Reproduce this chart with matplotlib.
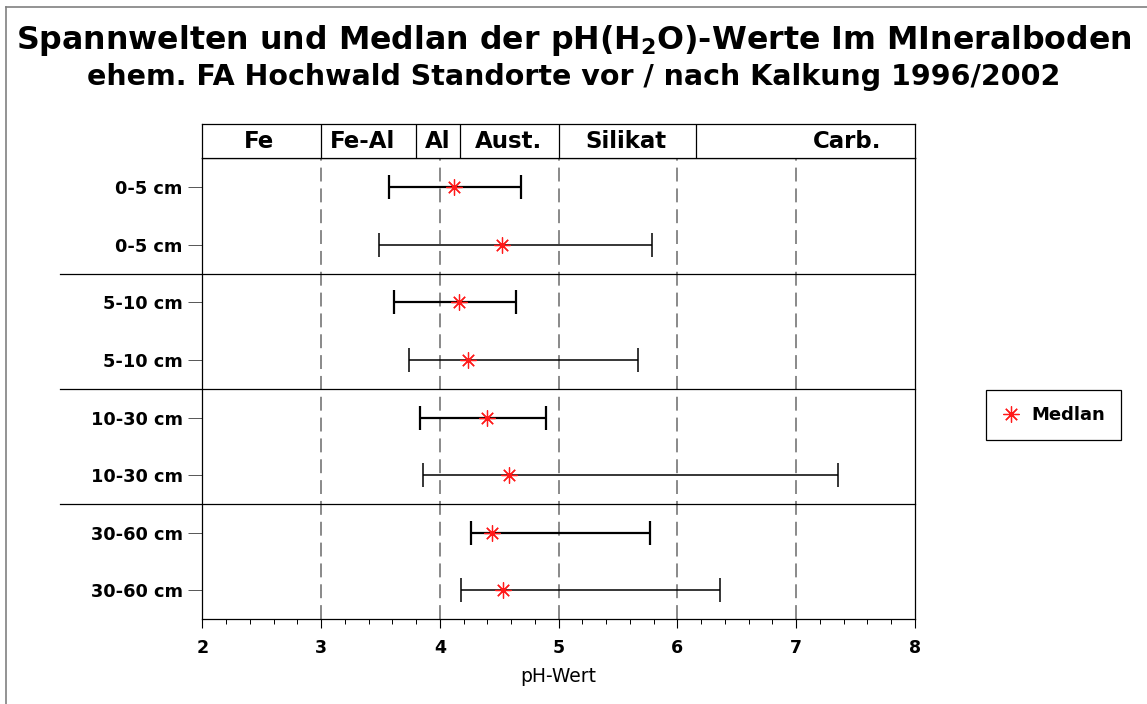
import numpy as np
import matplotlib.pyplot as plt
import matplotlib.transforms as mtransforms
from matplotlib.lines import Line2D
from matplotlib.ticker import MultipleLocator

plt.rcParams['font.family'] = 'DejaVu Sans'
plt.rcParams['mathtext.fontset'] = 'dejavusans'
plt.rcParams['lines.scale_dashes'] = False

# Tiefenstufen, je zwei Zeilen (1996 / 2002)
depths = ["0-5 cm", "0-5 cm", "5-10 cm", "5-10 cm",
          "10-30 cm", "10-30 cm", "30-60 cm", "30-60 cm"]
ph_min = [3.57, 3.49, 3.61, 3.74, 3.83, 3.86, 4.26, 4.18]
ph_max = [4.68, 5.79, 4.64, 5.67, 4.89, 7.35, 5.77, 6.36]
ph_median = [4.12, 4.52, 4.16, 4.24, 4.40, 4.58, 4.44, 4.53]

# Pufferbereiche oben
buffer_names = ["Fe", "Fe-Al", "Al", "Aust.", "Silikat", "Carb."]
buffer_edges = [2.0, 3.0, 3.8, 4.17, 5.0, 6.16, 8.0]
buffer_label_x = [2.48, 3.35, 3.98, 4.58, 5.57, 7.43]

title = r"Spannwelten und Medlan der pH(H$_\mathbf{2}$O)-Werte Im MIneralboden"
subtitle = "ehem. FA Hochwald Standorte vor / nach Kalkung 1996/2002"

W, H = 1147, 704
fig = plt.figure(figsize=(W / 100, H / 100), dpi=100)

left, right, top, bottom = 202.3, 915.0, 158.3, 619.3
ax = fig.add_axes([left / W, 1 - bottom / H, (right - left) / W, (bottom - top) / H])

n = len(depths)
y = np.arange(n) + 0.5
ax.set_xlim(2, 8)
ax.set_ylim(n, 0)

# gestrichelte Gitterlinien
for xv in range(3, 8):
    ax.axvline(xv, color='#6a6a6a', lw=1.1, ls=(0, (10, 5)), zorder=1)

# Spannweiten
for i in range(n):
    lw = 1.6 if i % 2 == 0 else 1.1
    ax.errorbar(ph_median[i], y[i],
                xerr=[[ph_median[i] - ph_min[i]], [ph_max[i] - ph_median[i]]],
                fmt='none', ecolor='black', elinewidth=lw, capsize=8.8,
                capthick=lw, zorder=3)
med = ax.plot(ph_median, y, ls='none', marker=(8, 2, 0), ms=11.5,
              mec='#ff1a1a', mfc='#ff1a1a', mew=0.9, zorder=4, label='Medlan')

# Trennlinien zwischen den Tiefenstufen
trans = mtransforms.blended_transform_factory(ax.transAxes, ax.transData)
for i in range(1, n):
    if depths[i] != depths[i - 1]:
        ax.plot([-0.2, 1], [i, i], color='black', lw=0.9, transform=trans,
                clip_on=False, zorder=2)

ax.set_yticks(y)
ax.set_yticklabels(depths, fontweight='bold', fontsize=12.8)
ax.tick_params(axis='y', length=10, width=0.7, color='#555555', pad=4)
ax.set_xticks(range(2, 9))
ax.set_xticklabels([str(v) for v in range(2, 9)], fontweight='bold', fontsize=12.5)
ax.xaxis.set_minor_locator(MultipleLocator(0.2))
ax.tick_params(axis='x', which='major', length=6.5, width=0.8, pad=8)
ax.tick_params(axis='x', which='minor', length=3.4, width=0.7)
ax.set_xlabel('pH-Wert', fontsize=13.5)
ax.xaxis.set_label_coords(0.5, -0.103)
for s in ax.spines.values():
    s.set_linewidth(0.9)

# Kopfleiste mit Pufferbereichen
hx = fig.add_axes([left / W, 1 - top / H, (right - left) / W, (top - 124.3) / H])
hx.set_xlim(2, 8)
hx.set_ylim(0, 1)
hx.set_xticks([])
hx.set_yticks([])
for e in buffer_edges[1:-1]:
    hx.axvline(e, color='black', lw=0.9)
for name, xv in zip(buffer_names, buffer_label_x):
    hx.text(xv, 0.48, name, ha='center', va='center', fontweight='bold', fontsize=16.5)
for s in hx.spines.values():
    s.set_linewidth(0.9)

fig.text(0.5, 1 - 49 / H, title, ha='center', va='baseline', fontsize=22.8, fontweight='bold')
fig.text(0.5, 1 - 85 / H, subtitle, ha='center', va='baseline', fontsize=20.5, fontweight='bold')

leg = fig.legend(handles=med, loc='center', bbox_to_anchor=(1053.5 / W, 1 - 415 / H),
                 fancybox=False, edgecolor='black', framealpha=1, handlelength=1.0,
                 handletextpad=0.6, borderpad=0.9, prop={'weight': 'bold', 'size': 13})
leg.get_frame().set_linewidth(0.9)

# Rahmen
fig.add_artist(Line2D([6 / W, 1], [1 - 7 / H, 1 - 7 / H], transform=fig.transFigure,
                      color='#808080', lw=1.2))
fig.add_artist(Line2D([6 / W, 6 / W], [0, 1 - 7 / H], transform=fig.transFigure,
                      color='#808080', lw=1.2))

fig.savefig('out.png', dpi=100)
